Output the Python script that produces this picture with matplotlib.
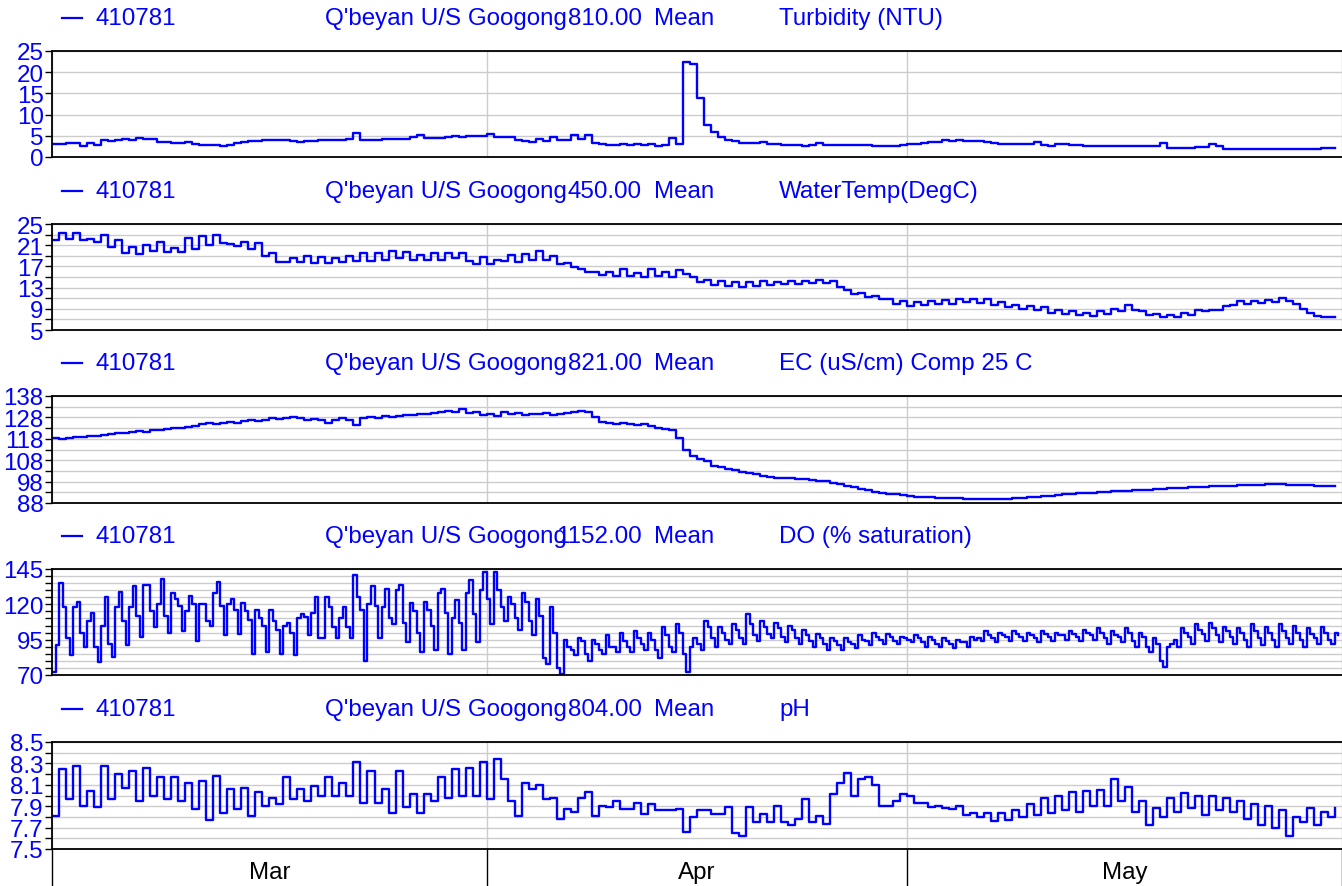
import numpy as np
import matplotlib
matplotlib.use("Agg")
import matplotlib.pyplot as plt
from matplotlib.lines import Line2D

plt.rcParams["font.family"] = ["Liberation Sans", "DejaVu Sans"]

site = "410781"
site_name = "Q'beyan U/S Googong"
stat = "Mean"
var_codes = ["810.00", "450.00", "821.00", "1152.00", "804.00"]
var_names = ["Turbidity (NTU)", "WaterTemp(DegC)", "EC (uS/cm) Comp 25 C",
             "DO (% saturation)", "pH"]

months = ["Mar", "Apr", "May"]
month_starts = [0, 31, 61, 92]  # days since 1 Mar

# 12-hourly readings from 1 Mar 00:00
turbidity = [
    3.1, 3.1, 3.2, 3.3, 2.6, 3.2, 2.8, 3.9, 3.8, 4.1,
    4.2, 4.1, 4.4, 4.2, 4.2, 3.6, 3.5, 3.4, 3.3, 3.6,
    3.0, 2.9, 2.8, 2.8, 2.7, 2.9, 3.2, 3.5, 3.7, 3.8,
    3.9, 4.0, 4.0, 3.9, 3.7, 3.6, 3.7, 3.8, 3.9, 3.9,
    3.9, 4.0, 4.2, 5.6, 4.0, 4.0, 4.1, 4.2, 4.3, 4.2,
    4.3, 4.6, 5.2, 4.5, 4.4, 4.5, 4.6, 4.9, 4.8, 5.0,
    5.0, 5.0, 5.4, 4.8, 4.7, 4.6, 3.9, 3.7, 3.6, 4.3,
    3.7, 4.8, 4.0, 4.1, 5.2, 4.2, 5.2, 3.3, 3.0, 2.9,
    2.9, 3.1, 2.9, 3.0, 2.8, 3.0, 2.5, 2.9, 4.5, 3.1,
    22.5, 22.0, 14.0, 7.5, 6.0, 4.6, 3.9, 3.7, 3.3, 3.2,
    3.3, 3.5, 3.1, 3.0, 2.8, 2.8, 2.8, 2.7, 2.8, 3.4,
    2.9, 2.8, 2.8, 2.8, 2.9, 2.8, 2.8, 2.7, 2.7, 2.7,
    2.7, 2.8, 3.0, 3.1, 3.2, 3.5, 3.6, 4.0, 3.8, 3.9,
    3.8, 3.8, 3.7, 3.6, 3.2, 3.1, 3.1, 3.0, 3.1, 3.1,
    3.5, 2.8, 2.7, 3.1, 3.0, 2.9, 2.9, 2.6, 2.6, 2.6,
    2.6, 2.6, 2.6, 2.6, 2.6, 2.7, 2.7, 2.7, 3.2, 2.2,
    2.1, 2.1, 2.1, 2.3, 2.3, 3.0, 2.5, 1.8, 1.8, 1.8,
    1.8, 1.8, 1.9, 1.9, 1.9, 1.9, 1.9, 2.0, 2.0, 1.9,
    2.0, 2.1, 2.2, 2.2,
]

water_temp = [
    22.0, 23.3, 22.2, 23.3, 21.9, 22.1, 21.6, 22.9, 20.6, 22.0,
    19.6, 20.6, 19.3, 21.0, 19.9, 21.6, 19.8, 20.5, 19.7, 22.4,
    20.3, 22.8, 21.0, 22.9, 21.4, 21.2, 20.8, 21.6, 20.2, 21.5,
    18.9, 19.6, 17.8, 17.8, 18.5, 17.8, 18.9, 17.7, 18.8, 17.6,
    18.6, 17.9, 19.0, 18.1, 19.5, 18.0, 19.6, 18.3, 20.0, 18.6,
    19.7, 18.3, 19.2, 18.2, 19.6, 18.3, 19.6, 18.6, 19.6, 18.0,
    17.5, 18.7, 17.4, 18.2, 18.0, 19.2, 17.9, 19.4, 18.2, 19.9,
    18.3, 19.0, 17.5, 17.6, 16.8, 16.6, 15.9, 16.0, 15.4, 15.9,
    15.1, 16.5, 15.2, 15.8, 15.0, 16.5, 15.2, 16.0, 15.0, 16.4,
    15.5, 15.0, 14.0, 14.5, 13.5, 14.2, 13.3, 14.0, 13.2, 14.0,
    13.3, 14.3, 13.5, 14.0, 13.6, 14.3, 13.7, 14.2, 13.8, 14.4,
    13.9, 14.2, 13.2, 12.5, 11.8, 12.0, 11.2, 11.5, 10.8, 10.9,
    10.0, 10.4, 9.6, 10.3, 9.7, 10.5, 9.9, 10.6, 10.0, 10.8,
    10.2, 10.9, 10.1, 10.9, 9.8, 10.2, 9.3, 9.8, 9.0, 9.6,
    8.7, 9.3, 8.3, 8.8, 8.0, 8.6, 7.8, 8.3, 7.7, 8.5,
    8.0, 8.9, 8.6, 9.8, 8.8, 8.6, 7.8, 8.1, 7.4, 7.9,
    7.4, 8.3, 7.9, 8.7, 8.5, 8.7, 8.7, 9.5, 9.8, 10.5,
    10.0, 10.5, 10.1, 10.6, 10.3, 11.1, 10.5, 10.0, 9.0, 8.2,
    7.6, 7.5, 7.5, 7.5,
]

ec = [
    118.5, 117.7, 118.3, 118.8, 118.9, 119.2, 119.5, 119.8, 120.3, 120.8,
    120.5, 121.2, 121.6, 121.0, 121.9, 122.1, 122.5, 122.9, 123.0, 123.5,
    124.0, 124.8, 125.3, 125.0, 125.6, 125.8, 125.5, 126.3, 126.6, 126.2,
    127.0, 127.5, 127.3, 127.7, 128.3, 127.9, 126.8, 127.2, 126.6, 125.2,
    127.0, 127.5, 126.8, 124.3, 127.5, 128.0, 127.9, 128.5, 128.0, 128.6,
    128.9, 129.2, 129.4, 129.8, 130.2, 130.5, 131.0, 130.3, 132.0, 130.0,
    130.5, 129.3, 129.8, 128.5, 130.5, 129.5, 130.0, 129.0, 129.7, 129.5,
    130.0, 129.0, 129.8, 130.2, 130.5, 131.0, 130.5, 128.0, 126.0, 125.5,
    125.0, 125.3, 124.8, 124.5, 124.8, 124.0, 123.2, 122.8, 122.0, 118.5,
    113.0, 110.0, 108.5, 107.5, 105.5, 104.8, 104.0, 103.5, 102.5, 102.0,
    101.5, 100.5, 100.2, 99.8, 99.5, 99.5, 99.2, 99.0, 98.8, 98.5,
    98.2, 97.5, 96.8, 95.8, 95.3, 94.6, 94.0, 93.3, 92.8, 92.4,
    92.0, 91.6, 91.3, 91.0, 90.8, 90.6, 90.5, 90.3, 90.3, 90.2,
    90.0, 90.0, 89.9, 89.9, 89.8, 90.0, 90.1, 90.3, 90.5, 90.6,
    90.9, 91.2, 91.5, 91.8, 92.0, 92.2, 92.5, 92.7, 92.9, 93.1,
    93.3, 93.5, 93.6, 93.8, 94.0, 94.1, 94.3, 94.5, 94.6, 94.8,
    95.0, 95.2, 95.3, 95.5, 95.6, 95.8, 95.9, 96.0, 96.1, 96.2,
    96.3, 96.5, 96.6, 96.7, 96.7, 96.8, 96.6, 96.5, 96.3, 96.2,
    96.0, 95.9, 95.8, 95.8,
]

# DO, 6-hourly (00, 06, 12, 18 h) from 1 Mar
do_sat = [
    72, 91, 135, 118,   96, 84, 118, 122,   100, 90, 108, 114,
    90, 79, 105, 125,   92, 83, 118, 129,   108, 91, 118, 133,
    112, 97, 134, 134,  115, 104, 120, 138, 112, 100, 128, 124,
    119, 101, 115, 126, 120, 94, 120, 120,  108, 105, 128, 136,
    119, 98, 120, 124,  116, 99, 121, 115,  109, 85, 116, 110,
    105, 86, 116, 108,  102, 85, 105, 107,  100, 84, 110, 113,
    111, 98, 114, 125,  96, 96, 125, 118,   104, 96, 110, 118,
    104, 96, 141, 125,  116, 80, 120, 133,  119, 96, 118, 131,
    110, 106, 130, 134, 107, 93, 121, 115,  100, 86, 122, 116,
    105, 88, 128, 131,  114, 85, 110, 123,  107, 88, 128, 137,
    113, 93, 130, 143,  124, 106, 143, 130, 118, 108, 125, 120,
    110, 102, 128, 122, 108, 98, 124, 112,  82, 78, 118, 100,
    75, 71, 95, 90,     88, 84, 96, 94,     85, 80, 95, 92,
    88, 85, 98, 90,     90, 86, 100, 94,    90, 86, 101, 96,
    92, 88, 100, 95,    88, 82, 104, 98,    90, 86, 106, 100,
    85, 72, 90, 96,     92, 88, 108, 104,   96, 90, 104, 100,
    95, 92, 106, 102,   96, 92, 113, 106,   98, 94, 108, 104,
    99, 96, 107, 103,   97, 93, 105, 102,   96, 92, 102, 98,
    94, 90, 99, 96,     92, 88, 96, 94,     91, 88, 96, 93,
    92, 89, 98, 95,     94, 91, 100, 97,    95, 92, 99, 97,
    94, 92, 97, 96,     95, 93, 98, 96,     93, 90, 97, 95,
    92, 90, 96, 94,     92, 89, 95, 93,     93, 90, 97, 95,
    96, 94, 101, 98,    96, 93, 100, 98,    97, 94, 101, 99,
    97, 94, 100, 98,    96, 93, 101, 99,    97, 94, 100, 98,
    98, 95, 101, 99,    97, 94, 102, 100,   98, 95, 103, 100,
    96, 92, 101, 98,    97, 93, 103, 100,   94, 90, 100, 97,
    90, 86, 96, 92,     80, 76, 90, 92,     95, 90, 103, 100,
    97, 92, 106, 102,   99, 94, 107, 103,   98, 93, 104, 101,
    97, 92, 103, 100,   95, 90, 106, 101,   96, 91, 104, 100,
    95, 90, 106, 101,   96, 92, 105, 100,   95, 90, 103, 99,
    96, 92, 104, 100,   95, 92, 100, 98,
]

# pH, 12-hourly: night low, afternoon high
ph = [
    7.81, 8.25, 7.97, 8.28, 7.90, 8.04, 7.89, 8.28, 7.97, 8.20,
    8.07, 8.23, 7.95, 8.26, 8.00, 8.17, 7.97, 8.17, 7.95, 8.12,
    7.87, 8.14, 7.77, 8.18, 7.84, 8.06, 7.87, 8.07, 7.81, 8.03,
    7.90, 7.98, 7.92, 8.17, 7.97, 8.06, 7.95, 8.09, 8.00, 8.17,
    8.00, 8.12, 8.00, 8.31, 7.93, 8.23, 7.93, 8.06, 7.84, 8.23,
    7.89, 8.01, 7.84, 8.01, 7.95, 8.17, 7.98, 8.25, 8.00, 8.26,
    8.00, 8.31, 7.97, 8.34, 8.15, 7.95, 7.81, 8.12, 8.06, 8.10,
    7.97, 7.98, 7.78, 7.87, 7.85, 7.98, 8.03, 7.81, 7.90, 7.89,
    7.95, 7.87, 7.87, 7.93, 7.83, 7.92, 7.86, 7.86, 7.86, 7.87,
    7.66, 7.80, 7.86, 7.86, 7.83, 7.83, 7.89, 7.65, 7.62, 7.89,
    7.75, 7.83, 7.75, 7.90, 7.75, 7.72, 7.78, 7.97, 7.75, 7.81,
    7.73, 8.01, 8.12, 8.21, 8.00, 8.15, 8.17, 8.10, 7.90, 7.90,
    7.95, 8.01, 8.00, 7.93, 7.93, 7.89, 7.90, 7.88, 7.87, 7.90,
    7.82, 7.84, 7.80, 7.84, 7.76, 7.84, 7.77, 7.86, 7.80, 7.92,
    7.82, 7.98, 7.84, 8.00, 7.86, 8.03, 7.85, 8.04, 7.90, 8.05,
    7.90, 8.15, 7.95, 8.08, 7.85, 7.95, 7.72, 7.88, 7.80, 7.98,
    7.85, 8.02, 7.88, 8.00, 7.82, 8.00, 7.86, 7.98, 7.85, 7.95,
    7.78, 7.92, 7.72, 7.90, 7.70, 7.86, 7.62, 7.80, 7.75, 7.88,
    7.72, 7.85, 7.80, 7.88,
]

series = [turbidity, water_temp, ec, do_sat, ph]
steps_per_day = [2, 2, 2, 4, 2]
ylims = [(0, 25), (5, 25), (88, 138), (70, 145), (7.5, 8.5)]
major_steps = [5, 4, 10, 25, 0.2]
minor_steps = [5, 2, 5, 5, 0.1]
label_fmt = ["%d", "%d", "%d", "%d", "%.1f"]

W, H = 1342, 887
fig = plt.figure(figsize=(W / 100, H / 100), dpi=100)

tops = [52, 225, 397, 570, 743]
bottoms = [158, 331, 504, 676, 850]
left = 52
blue = "#0000ff"
fs = 17.4

for k in range(5):
    ax = fig.add_axes([left / W, 1 - bottoms[k] / H, 1 - left / W,
                       (bottoms[k] - tops[k]) / H])
    days = np.arange(len(series[k])) / steps_per_day[k]
    ax.step(days, series[k], where="post", color=blue, lw=1.7)
    ax.set_xlim(0, 91.3)
    lo, hi = ylims[k]
    ax.set_ylim(lo, hi)
    major = np.arange(lo, hi + major_steps[k] / 2, major_steps[k])
    minor = np.arange(lo, hi + minor_steps[k] / 2, minor_steps[k])
    ax.set_yticks(major)
    ax.set_yticklabels([label_fmt[k] % v for v in major])
    ax.set_yticks(minor, minor=True)
    ax.tick_params(axis="y", which="both", direction="out", length=5,
                   width=1, color="black", labelcolor=blue, labelsize=fs, pad=1)
    ax.set_xticks(month_starts)
    ax.grid(True, which="both", axis="y", color="#cccccc", lw=1)
    ax.grid(True, which="major", axis="x", color="#cccccc", lw=1)
    ax.set_axisbelow(True)
    for s in ["left", "top", "bottom"]:
        ax.spines[s].set_linewidth(1.3)
    ax.spines["right"].set_visible(False)

    if k < 4:
        ax.tick_params(axis="x", which="both", length=0, labelbottom=False)
    else:
        ax.tick_params(axis="x", which="major", direction="out", length=36,
                       width=1, color="black", labelbottom=False)
        mids = [(month_starts[j] + month_starts[j + 1]) / 2 for j in range(3)]
        ax.set_xticks(mids, minor=True)
        ax.set_xticklabels(months, minor=True)
        ax.tick_params(axis="x", which="minor", length=0, labelsize=fs,
                       pad=9, labelcolor="black")

    # header line above each panel
    yc = 1 - (tops[k] - 33) / H
    fig.add_artist(Line2D([62 / W, 82 / W], [yc, yc], color=blue, lw=1.6))
    fig.text(96 / W, yc, site, color=blue, fontsize=fs, va="center")
    fig.text(325 / W, yc, site_name, color=blue, fontsize=fs, va="center")
    fig.text(642 / W, yc, var_codes[k], color=blue, fontsize=fs,
             va="center", ha="right")
    fig.text(654 / W, yc, stat, color=blue, fontsize=fs, va="center")
    fig.text(779 / W, yc, var_names[k], color=blue, fontsize=fs, va="center")

fig.savefig("out.png", dpi=100)
